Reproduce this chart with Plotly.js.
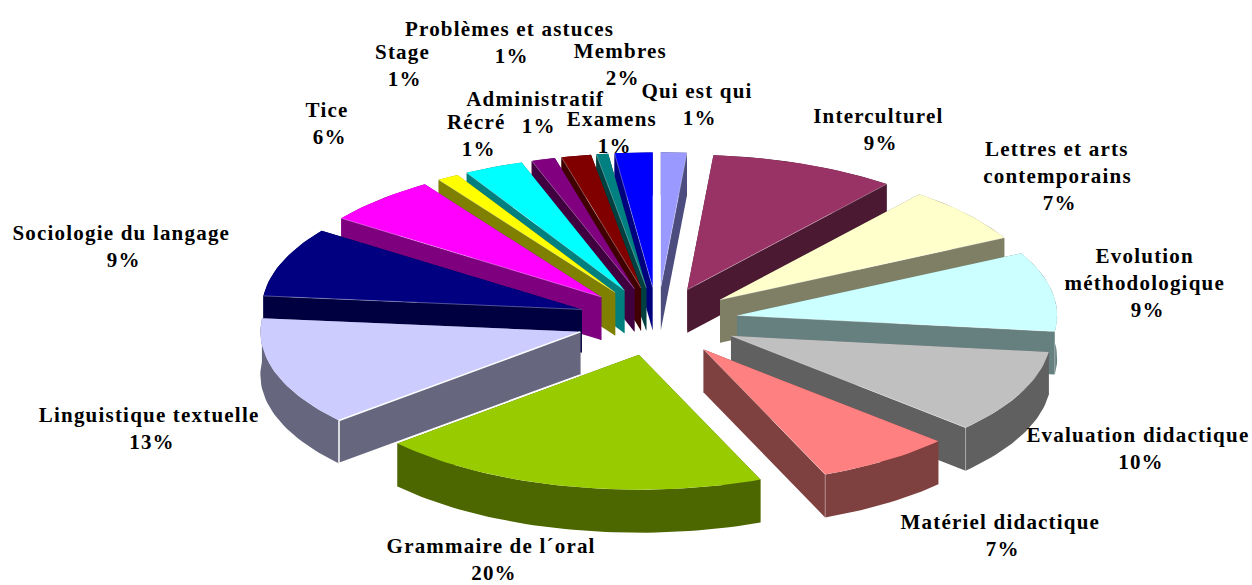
<!DOCTYPE html>
<html><head><meta charset="utf-8">
<script src="https://cdn.plot.ly/plotly-3.0.1.min.js"></script>
<style>html,body{margin:0;padding:0;background:#fff}#c{width:1252px;height:585px}</style></head>
<body><div id="c"></div>
<script>
// ---- data (clockwise from 12 o'clock) ----
const categories = ["Qui est qui","Interculturel","Lettres et arts contemporains","Evolution méthodologique","Evaluation didactique","Matériel didactique","Grammaire de l´oral","Linguistique textuelle","Sociologie du langage","Tice","Stage","Récré","Administratif","Problèmes et astuces","Examens","Membres"];
const shares = [1.3,9.4,6.7,9.5,10.0,6.9,19.8,13.0,8.3,5.8,1.1,3.0,1.2,1.5,0.6,1.9];
const percentLabels = ["1%","9%","7%","9%","10%","7%","20%","13%","9%","6%","1%","1%","1%","1%","1%","2%"];
const topColors = ["#9999FF","#993366","#FFFFCC","#CCFFFF","#C0C0C0","#FF8080","#99CC00","#CCCCFF","#000080","#FF00FF","#FFFF00","#00FFFF","#800080","#800000","#008080","#0000FF"];
// label lines, split as in the picture
const labelLines = [["Qui est qui"],["Interculturel"],["Lettres et arts","contemporains"],["Evolution","méthodologique"],["Evaluation didactique"],["Matériel didactique"],["Grammaire de l´oral"],["Linguistique textuelle"],["Sociologie du langage"],["Tice"],["Stage"],["Récré"],["Administratif"],["Problèmes et astuces"],["Examens"],["Membres"]];
// label placement (centre x, first-line y)
const labelX = [697,878,1057,1145,1138,1000,491,149,121,327,402,476,536,509,612,620];
const labelY = [91,116,149,256,435,522,546,415,233,110,52,122,99,29,119,51];
const lineGap = 27, percentShift = 2.5;
// ---- projection of the exploded pie ----
const cx=657.5, cy=321.5, rx=320, ry=135, pull=0.253, depth=43, arcStep=1.5;
const total = shares.reduce((a,b)=>a+b,0);
const rad = d=>d*Math.PI/180;
function dark(h){const n=parseInt(h.slice(1),16);return `rgb(${(n>>16&255)>>1},${(n>>8&255)>>1},${(n&255)>>1})`;}
let acc=0;
const slices = shares.map((v,i)=>{
  const a1=acc/total*360; acc+=v; const a2=acc/total*360; const m=(a1+a2)/2;
  const ax=cx+pull*rx*Math.sin(rad(m)), ay=cy-pull*ry*Math.cos(rad(m));
  const pt=a=>[ax+rx*Math.sin(rad(a)), ay-ry*Math.cos(rad(a))];
  const arc=[]; const n=Math.max(2,Math.ceil((a2-a1)/arcStep));
  for(let k=0;k<=n;k++) arc.push(pt(a1+(a2-a1)*k/n));
  return {i,a1,a2,m,ax,ay,arc,pt};
}).sort((p,q)=>Math.cos(rad(q.m))-Math.cos(rad(p.m)));
const traces=[];
function poly(points,color){
  traces.push({type:'scatter',mode:'lines',x:points.map(p=>p[0]),y:points.map(p=>p[1]),fill:'toself',fillcolor:color,line:{width:0,color:color},hoverinfo:'skip',showlegend:false});
}
function edge(points,color,w){
  traces.push({type:'scatter',mode:'lines',x:points.map(p=>p[0]),y:points.map(p=>p[1]),line:{width:w,color:color},hoverinfo:'skip',showlegend:false});
}
slices.forEach(s=>{
  const c=topColors[s.i], side=dark(c);
  const A=[s.ax,s.ay], down=p=>[p[0],p[1]+depth];
  const first=s.arc[0], last=s.arc[s.arc.length-1];
  poly([A,first,down(first),down(A),A],side);
  poly([A,last,down(last),down(A),A],side);
  poly(s.arc.concat(s.arc.slice().reverse().map(down)).concat([s.arc[0]]),side);
  poly([A].concat(s.arc).concat([A]),c);
  const strong = categories[s.i]==="Linguistique textuelle";
  const col = strong ? "#ffffff" : "rgba(255,255,255,0.4)";
  const w = strong ? 1.5 : 0.8;
  if(s.a1>180){ edge([A,first],col,w); if(s.a1<270) edge([first,down(first)],col,w); if(strong) edge([down(first),down(A)],col,w); }
  if(s.a2<180){ edge([A,last],col,w); if(s.a2>90) edge([last,down(last)],col,w); }
});
const annotations=[];
categories.forEach((name,i)=>{
  const lines=labelLines[i].concat([percentLabels[i]]);
  lines.forEach((t,k)=>annotations.push({x:labelX[i]+(k===lines.length-1?percentShift:0),y:labelY[i]+k*lineGap,xref:'x',yref:'y',text:t,showarrow:false,xanchor:'center',yanchor:'middle',borderpad:0,
    font:{family:'"Liberation Serif",serif',size:21,color:'#000000',weight:700}}));
});
const layout={width:1252,height:585,margin:{l:0,r:0,t:0,b:0},paper_bgcolor:'#fff',plot_bgcolor:'#fff',showlegend:false,
  xaxis:{range:[0,1252],visible:false,fixedrange:true},yaxis:{range:[585,0],visible:false,fixedrange:true},annotations};
Plotly.newPlot('c',traces,layout,{displayModeBar:false,staticPlot:true}).then(()=>{
  document.querySelectorAll('.annotation-text').forEach(t=>{t.style.letterSpacing='1.2px';});
});
</script></body></html>
